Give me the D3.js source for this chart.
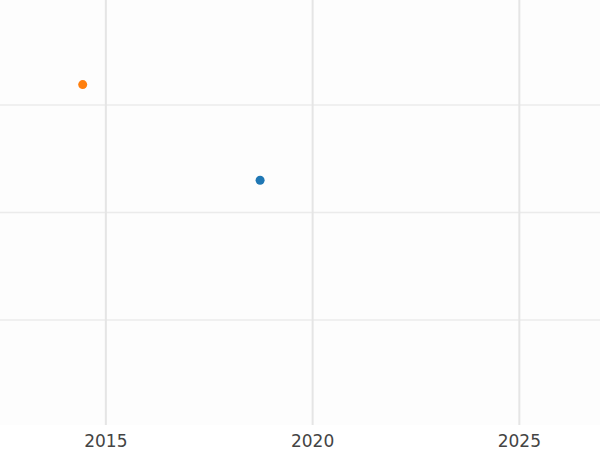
<!DOCTYPE html>
<html><head><meta charset="utf-8">
<script src="https://cdn.jsdelivr.net/npm/d3@7"></script>
<style>body{margin:0;background:#fff}</style>
</head><body><div id="chart"></div>
<script>
var years = [2014.44, 2018.73];
var values = [3.19, 2.30];
var colors = ["#ff7f0e", "#1f77b4"];
var xTicks = [2015, 2020, 2025];
var yTicks = [1, 2, 3];

var W = 600, H = 450, plotBottom = 425;
var x = d3.scaleLinear().domain([2012.44, 2026.95]).range([0, W]);
var y = d3.scaleLinear().domain([0.023, 3.977]).range([plotBottom, 0]);

var svg = d3.select("#chart").append("svg").attr("width", W).attr("height", H);
svg.append("rect").attr("width", W).attr("height", plotBottom).attr("fill", "#fdfdfd");

svg.selectAll(".hg").data(yTicks).enter().append("line")
    .attr("x1", 0).attr("x2", W)
    .attr("y1", function(d) { return y(d); }).attr("y2", function(d) { return y(d); })
    .attr("stroke", "#ebebeb").attr("stroke-width", 1.5);

svg.selectAll(".vg").data(xTicks).enter().append("line")
    .attr("y1", 0).attr("y2", plotBottom)
    .attr("x1", function(d) { return x(d); }).attr("x2", function(d) { return x(d); })
    .attr("stroke", "#e5e5e5").attr("stroke-width", 2);

svg.selectAll(".xl").data(xTicks).enter().append("text")
    .attr("x", function(d) { return x(d); }).attr("y", 447)
    .attr("text-anchor", "middle")
    .attr("font-family", "DejaVu Sans").attr("font-size", 17).attr("fill", "#444")
    .text(function(d) { return d; });

svg.selectAll("circle").data(years).enter().append("circle")
    .attr("cx", function(d) { return x(d); })
    .attr("cy", function(d, i) { return y(values[i]); })
    .attr("r", 4.5)
    .attr("fill", function(d, i) { return colors[i]; });
</script></body></html>
